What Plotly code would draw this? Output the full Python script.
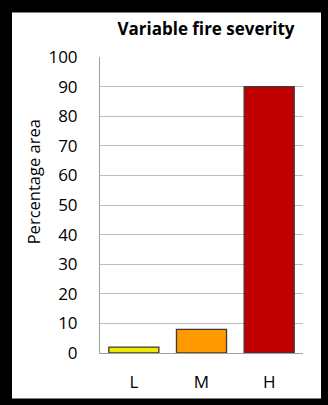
import plotly.graph_objects as go

# Fire severity classes and the share of area burnt in each
severity = ["L", "M", "H"]
percent_area = [2, 8, 90]
bar_colors = ["#EEE800", "#FF9900", "#C00000"]
y_ticks = [0, 10, 20, 30, 40, 50, 60, 70, 80, 90, 100]

FONT = "Open Sans"

fig = go.Figure(
    go.Bar(
        x=severity,
        y=percent_area,
        marker=dict(color=bar_colors, line=dict(color="#3A3A3A", width=1.3)),
        width=0.74,
    )
)

fig.update_layout(
    width=328,
    height=405,
    margin=dict(l=100, r=25, t=57, b=48),
    paper_bgcolor="black",
    plot_bgcolor="white",
    showlegend=False,
    font=dict(family=FONT, color="black", size=17),
    title=dict(
        text="<b>Variable fire severity</b>",
        font=dict(family=FONT, size=17, color="black"),
        x=0.628,
        xanchor="center",
        y=0.929,
        yanchor="middle",
        xref="container",
        yref="container",
    ),
    shapes=[
        dict(
            type="rect",
            xref="paper",
            yref="paper",
            x0=-0.4335,
            x1=1.0887,
            y0=-0.1533,
            y1=1.15,
            fillcolor="white",
            line=dict(width=0),
            layer="below",
        )
    ],
    annotations=[
        dict(
            text="Percentage area",
            textangle=-90,
            xref="paper",
            yref="paper",
            x=-0.330,
            y=0.5767,
            xanchor="center",
            yanchor="middle",
            showarrow=False,
            font=dict(family=FONT, size=16.5, color="black"),
        )
    ],
)

fig.update_yaxes(
    range=[0, 100],
    tickvals=y_ticks,
    showgrid=True,
    gridcolor="#BEBEBE",
    gridwidth=1,
    showline=True,
    linecolor="#A0A0A0",
    linewidth=1,
    zeroline=False,
    ticks="",
    ticklabelstandoff=18,
    tickfont=dict(family=FONT, size=17),
    fixedrange=True,
)

fig.update_xaxes(
    showgrid=False,
    showline=True,
    linecolor="#A0A0A0",
    linewidth=1,
    ticks="",
    ticklabelstandoff=14,
    tickfont=dict(family=FONT, size=17),
    fixedrange=True,
)

fig.write_html("out.html")
